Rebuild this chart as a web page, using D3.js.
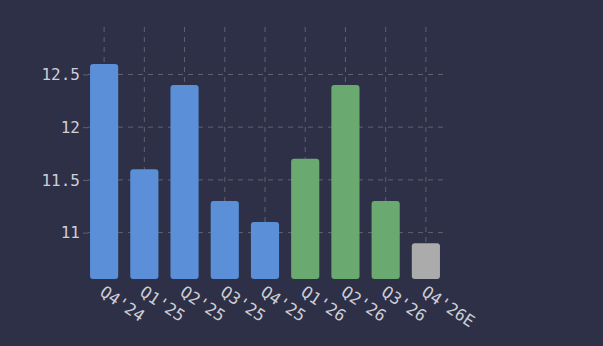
<!doctype html>
<meta charset="utf-8">
<title>Quarterly bars</title>
<script src="https://cdn.jsdelivr.net/npm/d3@7/dist/d3.min.js"></script>
<style>
    html, body { margin: 0; padding: 0; background: #2e3047; }
    svg { display: block; }
    text { font-family: "DejaVu Sans Mono", monospace; fill: #cdced6; }
</style>
<body>
<div id="chart"></div>
<script>
    var quarters = ["Q4'24", "Q1'25", "Q2'25", "Q3'25", "Q4'25", "Q1'26", "Q2'26", "Q3'26", "Q4'26E"]
            , values = [12.6, 11.6, 12.4, 11.3, 11.1, 11.7, 12.4, 11.3, 10.9]
            , groups = ["past", "past", "past", "past", "past", "future", "future", "future", "estimate"]
            , yTicks = [11, 11.5, 12, 12.5];

    var width = 603, height = 346
            , plotLeft = 84, plotRight = 446, plotTop = 27, plotBottom = 279, axisX = 88;

    var colors = { past: "#5b8fd8", future: "#6aaa70", estimate: "#ababab" }
            , gridColor = '#60626f';

    var svg = d3.select('#chart').append('svg')
            .attr('width', width)
            .attr('height', height);

    svg.append('rect').attr('width', width).attr('height', height).attr('fill', '#2e3047');

    var x = d3.scaleBand().domain(quarters).range([plotLeft, plotRight])
            .paddingInner(0.3).paddingOuter(0.15);
    var y = d3.scaleLinear().domain([10.56, 12.95]).range([plotBottom, plotTop]);

    // grid
    svg.append('g').selectAll('line.v')
            .data(quarters).enter().append('line')
            .attr('x1', function(d) { return x(d) + x.bandwidth()/2 })
            .attr('x2', function(d) { return x(d) + x.bandwidth()/2 })
            .attr('y1', plotTop).attr('y2', plotBottom)
            .style('stroke', gridColor).style('stroke-width', 1).style('stroke-dasharray', '5,5');

    svg.append('g').selectAll('line.h')
            .data(yTicks).enter().append('line')
            .attr('x1', axisX).attr('x2', plotRight)
            .attr('y1', function(d) { return y(d) }).attr('y2', function(d) { return y(d) })
            .style('stroke', gridColor).style('stroke-width', 1).style('stroke-dasharray', '5,5');

    // y axis
    var yAxis = svg.append('g')
            .attr('transform', 'translate(' + axisX + ',0)')
            .call(d3.axisLeft(y).tickValues(yTicks).tickSize(5).tickPadding(3).tickFormat(d3.format('~g')));
    yAxis.select('.domain').remove();
    yAxis.selectAll('.tick line').attr('stroke', gridColor);
    yAxis.selectAll('text')
            .style('font-size', '16px')
            .style('font-family', '"DejaVu Sans Mono", monospace')
            .attr('fill', '#cdced6');

    // bars
    svg.append('g').selectAll('rect.bar')
            .data(values).enter().append('rect')
            .attr('x', function(d, i) { return x(quarters[i]) })
            .attr('y', function(d) { return y(d) })
            .attr('width', x.bandwidth())
            .attr('height', function(d) { return plotBottom - y(d) })
            .attr('rx', 3)
            .attr('fill', function(d, i) { return colors[groups[i]] });

    // x labels
    svg.append('g').selectAll('text.xl')
            .data(quarters).enter().append('text')
            .attr('transform', function(d) {
                return 'translate(' + (x(d) + x.bandwidth()/2 + 1) + ',' + (plotBottom + 6) + ') rotate(34)';
            })
            .attr('dy', '0.7em')
            .style('font-size', '16.5px')
            .text(function(d) { return d });
</script>
</body>
